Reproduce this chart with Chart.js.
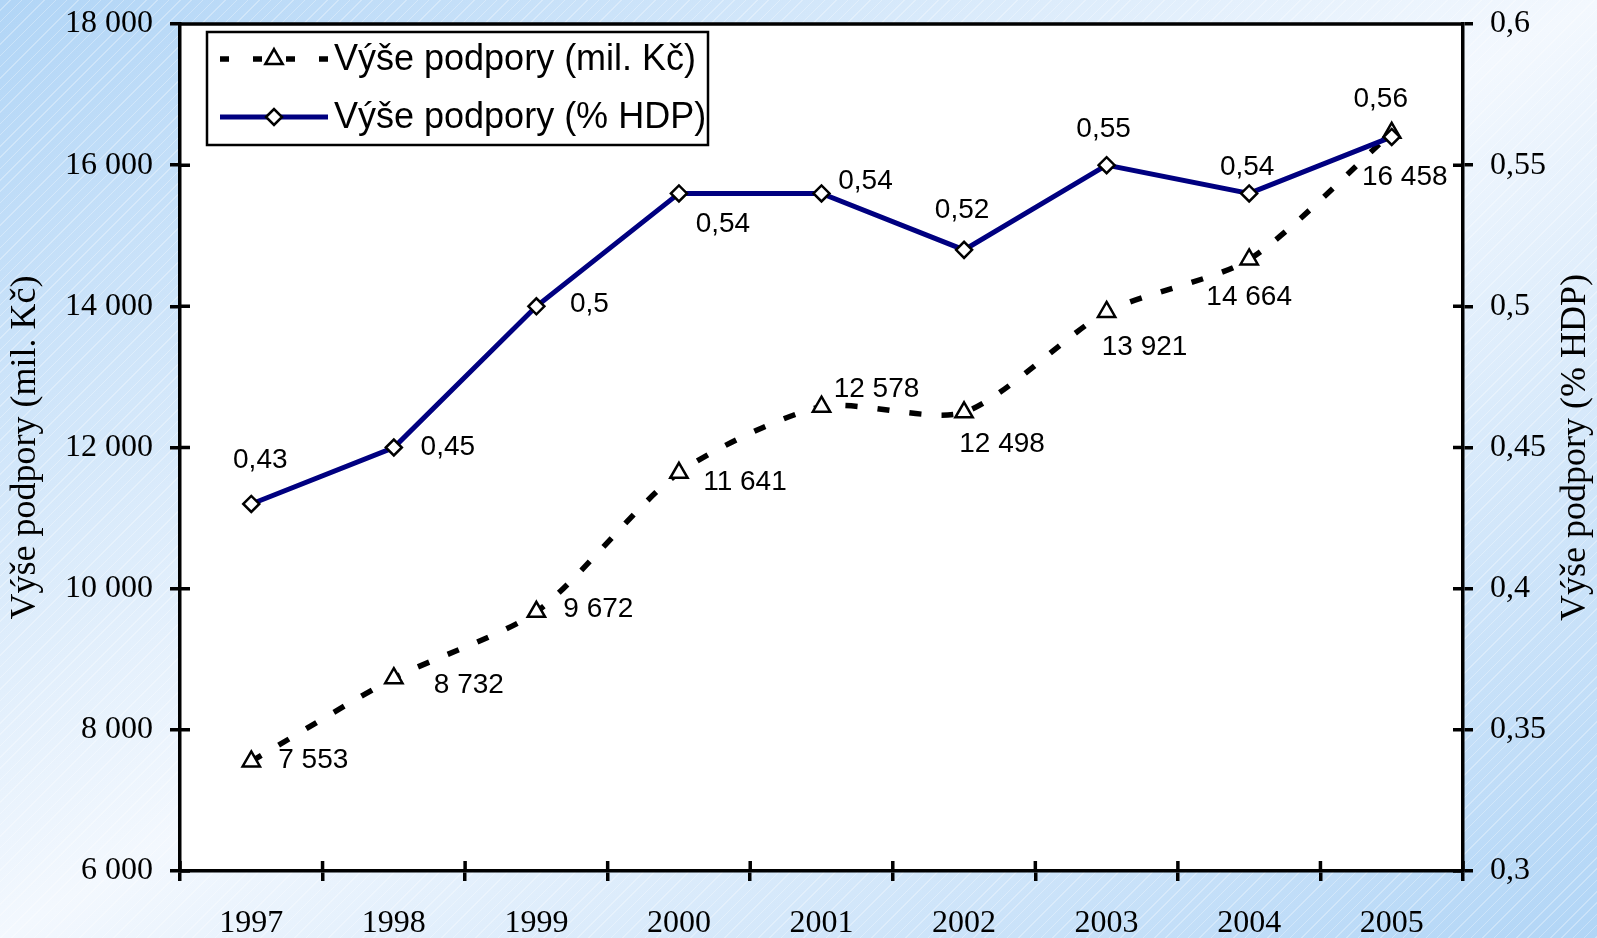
<!DOCTYPE html>
<html>
<head>
<meta charset="utf-8">
<script src="https://cdn.jsdelivr.net/npm/chart.js@4"></script>
<style>
  html, body { margin: 0; padding: 0; }
  body {
    width: 1597px; height: 938px; overflow: hidden;
    background:
      repeating-linear-gradient(135deg, rgba(255,255,255,0) 0 7px, rgba(255,255,255,0.3) 7px 8px),
      linear-gradient(to bottom right, #b1d5f6 0%, #f3f8fe 50%, #b1d5f6 100%);
  }
  canvas { display: block; }
</style>
</head>
<body>
<canvas id="chart" width="1597" height="938"></canvas>
<script>
// data
const years = ['1997', '1998', '1999', '2000', '2001', '2002', '2003', '2004', '2005'];
const supportMil = [7553, 8732, 9672, 11641, 12578, 12498, 13921, 14664, 16458];
const supportHdp = [0.43, 0.45, 0.5, 0.54, 0.54, 0.52, 0.55, 0.54, 0.56];
const seriesNames = ['Výše podpory (mil. Kč)', 'Výše podpory (% HDP)'];
const leftTitle = 'Výše podpory (mil. Kč)';
const rightTitle = 'Výše podpory (% HDP)';

// where each value label sits relative to its point (centre of text)
const milLabelOffsets = [[62, -1], [75, 7], [62, -3], [66, 9], [55, -17], [38, 32], [38, 35], [0, 38], [13, 44]];
const hdpLabelOffsets = [[9, -44], [54, 0], [53, -2], [44, 31], [44, -12], [-2, -40], [-3, -36], [-2, -26], [-11, -38]];

const NAVY = '#000080';
const SERIF = '"Liberation Serif", "Times New Roman", serif';
const SANS = '"Liberation Sans", Arial, sans-serif';

function fmtThousands(v) {
    return String(Math.round(v)).replace(/\B(?=(\d{3})+(?!\d))/g, ' ');
}
function fmtDecimal(v) {
    return String(Number(v.toFixed(2))).replace('.', ',');
}

// white plot area + frame + inner tick marks + axis titles
const plotFrame = {
    id: 'plotFrame',
    beforeDraw(chart) {
        const { ctx, chartArea: a } = chart;
        ctx.save();
        ctx.fillStyle = '#ffffff';
        ctx.fillRect(a.left, a.top, a.right - a.left, a.bottom - a.top);
        ctx.restore();
    },
    afterDraw(chart) {
        const { ctx, chartArea: a, scales } = chart;
        ctx.save();
        ctx.strokeStyle = '#000';
        ctx.lineWidth = 3.5;
        ctx.beginPath();
        ctx.moveTo(a.left, a.top);
        ctx.lineTo(a.right, a.top);
        // inner halves of tick marks
        scales.y.ticks.forEach((t, i) => {
            const y = scales.y.getPixelForTick(i);
            ctx.moveTo(a.left, y); ctx.lineTo(a.left + 10, y);
        });
        scales.y1.ticks.forEach((t, i) => {
            const y = scales.y1.getPixelForTick(i);
            ctx.moveTo(a.right, y); ctx.lineTo(a.right - 10, y);
        });
        const step = (a.right - a.left) / years.length;
        for (let i = 0; i <= years.length; i++) {
            const x = a.left + step * i;
            ctx.moveTo(x, a.bottom); ctx.lineTo(x, a.bottom - 10);
        }
        ctx.stroke();

        // axis titles, both reading bottom to top
        ctx.fillStyle = '#000';
        ctx.font = '36px ' + SERIF;
        ctx.textAlign = 'center';
        ctx.textBaseline = 'middle';
        const cy = (a.top + a.bottom) / 2;
        ctx.translate(26, cy);
        ctx.rotate(-Math.PI / 2);
        ctx.fillText(leftTitle, 0, 0);
        ctx.setTransform(1, 0, 0, 1, 0, 0);
        ctx.translate(a.right + 113, cy);
        ctx.rotate(-Math.PI / 2);
        ctx.fillText(rightTitle, 0, 0);
        ctx.restore();
    }
};

// value labels next to points
const valueLabels = {
    id: 'valueLabels',
    afterDatasetsDraw(chart) {
        const { ctx } = chart;
        ctx.save();
        ctx.font = '28px ' + SANS;
        ctx.fillStyle = '#000';
        ctx.textAlign = 'center';
        ctx.textBaseline = 'middle';
        const m0 = chart.getDatasetMeta(0), m1 = chart.getDatasetMeta(1);
        m0.data.forEach((pt, i) => {
            const o = milLabelOffsets[i];
            ctx.fillText(fmtThousands(supportMil[i]), pt.x + o[0], pt.y + o[1]);
        });
        m1.data.forEach((pt, i) => {
            const o = hdpLabelOffsets[i];
            ctx.fillText(fmtDecimal(supportHdp[i]), pt.x + o[0], pt.y + o[1]);
        });
        ctx.restore();
    }
};

// boxed legend in the upper-left corner of the plot
const boxLegend = {
    id: 'boxLegend',
    afterDraw(chart) {
        const { ctx, chartArea: a } = chart;
        const x0 = a.left + 27, y0 = a.top + 8, w = 501, h = 113;
        ctx.save();
        ctx.fillStyle = '#fff';
        ctx.fillRect(x0, y0, w, h);
        ctx.strokeStyle = '#000';
        ctx.lineWidth = 2.5;
        ctx.strokeRect(x0, y0, w, h);

        const rows = [y0 + 27, y0 + 85];
        const lx1 = x0 + 13, lx2 = x0 + 121, mx = (lx1 + lx2) / 2;
        chart.data.datasets.forEach((ds, i) => {
            const y = rows[i];
            ctx.save();
            ctx.strokeStyle = ds.borderColor;
            ctx.lineWidth = ds.borderWidth;
            ctx.setLineDash(ds.borderDash ? [9, 24] : []);
            ctx.beginPath();
            ctx.moveTo(lx1, y); ctx.lineTo(lx2, y);
            ctx.stroke();
            ctx.restore();
            ctx.fillStyle = ds.pointBackgroundColor;
            ctx.strokeStyle = ds.pointBorderColor;
            ctx.lineWidth = ds.pointBorderWidth;
            Chart.helpers.drawPoint(ctx, {
                pointStyle: ds.pointStyle, radius: ds.pointRadius,
                rotation: 0, borderWidth: ds.pointBorderWidth
            }, mx, y);
            ctx.fillStyle = '#000';
            ctx.font = '36px ' + SANS;
            ctx.textAlign = 'left';
            ctx.textBaseline = 'middle';
            ctx.fillText(ds.label, x0 + 127, y + 1);
        });
        ctx.restore();
    }
};

const tickGrid = { display: true, drawOnChartArea: false, drawTicks: true, tickLength: 10, color: '#000', lineWidth: 3.5 };
const axisBorder = { display: true, color: '#000', width: 3.5 };

// fixed axis sizes so the plot area lands where the reference has it
function fitY(width) {
    return function (scale) {
        scale.width = width;
        scale.paddingTop = 0;
        scale.paddingBottom = 0;
    };
}

new Chart(document.getElementById('chart'), {
    type: 'line',
    data: {
        labels: years,
        datasets: [{
            label: seriesNames[0],
            data: supportMil,
            yAxisID: 'y',
            borderColor: '#000',
            borderWidth: 5.5,
            borderDash: [12, 20],
            borderCapStyle: 'butt',
            tension: 0.25,
            pointStyle: 'triangle',
            pointRadius: 10,
            pointBackgroundColor: '#fff',
            pointBorderColor: '#000',
            pointBorderWidth: 2.5,
            order: 2
        }, {
            label: seriesNames[1],
            data: supportHdp,
            yAxisID: 'y1',
            borderColor: NAVY,
            borderWidth: 5,
            tension: 0,
            pointStyle: 'rectRot',
            pointRadius: 8,
            pointBackgroundColor: '#fff',
            pointBorderColor: '#000',
            pointBorderWidth: 2.5,
            order: 1
        }]
    },
    options: {
        responsive: false,
        animation: false,
        layout: { padding: { top: 24, left: 0, right: 0, bottom: 0 } },
        plugins: {
            legend: { display: false },
            tooltip: { enabled: false }
        },
        scales: {
            x: {
                offset: true,
                grid: Object.assign({}, tickGrid, { offset: true }),
                border: axisBorder,
                ticks: { color: '#000', font: { family: SERIF, size: 32 }, padding: 23, maxRotation: 0 },
                afterFit(scale) {
                    scale.height = 67;
                    scale.paddingLeft = 0;
                    scale.paddingRight = 0;
                }
            },
            y: {
                position: 'left',
                min: 6000, max: 18000,
                grid: tickGrid,
                border: axisBorder,
                ticks: {
                    stepSize: 2000, color: '#000', padding: 17,
                    font: { family: SERIF, size: 32 },
                    callback: v => fmtThousands(v)
                },
                afterFit: fitY(180)
            },
            y1: {
                position: 'right',
                min: 0.3, max: 0.6,
                grid: tickGrid,
                border: axisBorder,
                ticks: {
                    stepSize: 0.05, color: '#000', padding: 17,
                    font: { family: SERIF, size: 32 },
                    callback: v => fmtDecimal(v)
                },
                afterFit: fitY(134)
            }
        }
    },
    plugins: [plotFrame, valueLabels, boxLegend]
});
</script>
</body>
</html>
